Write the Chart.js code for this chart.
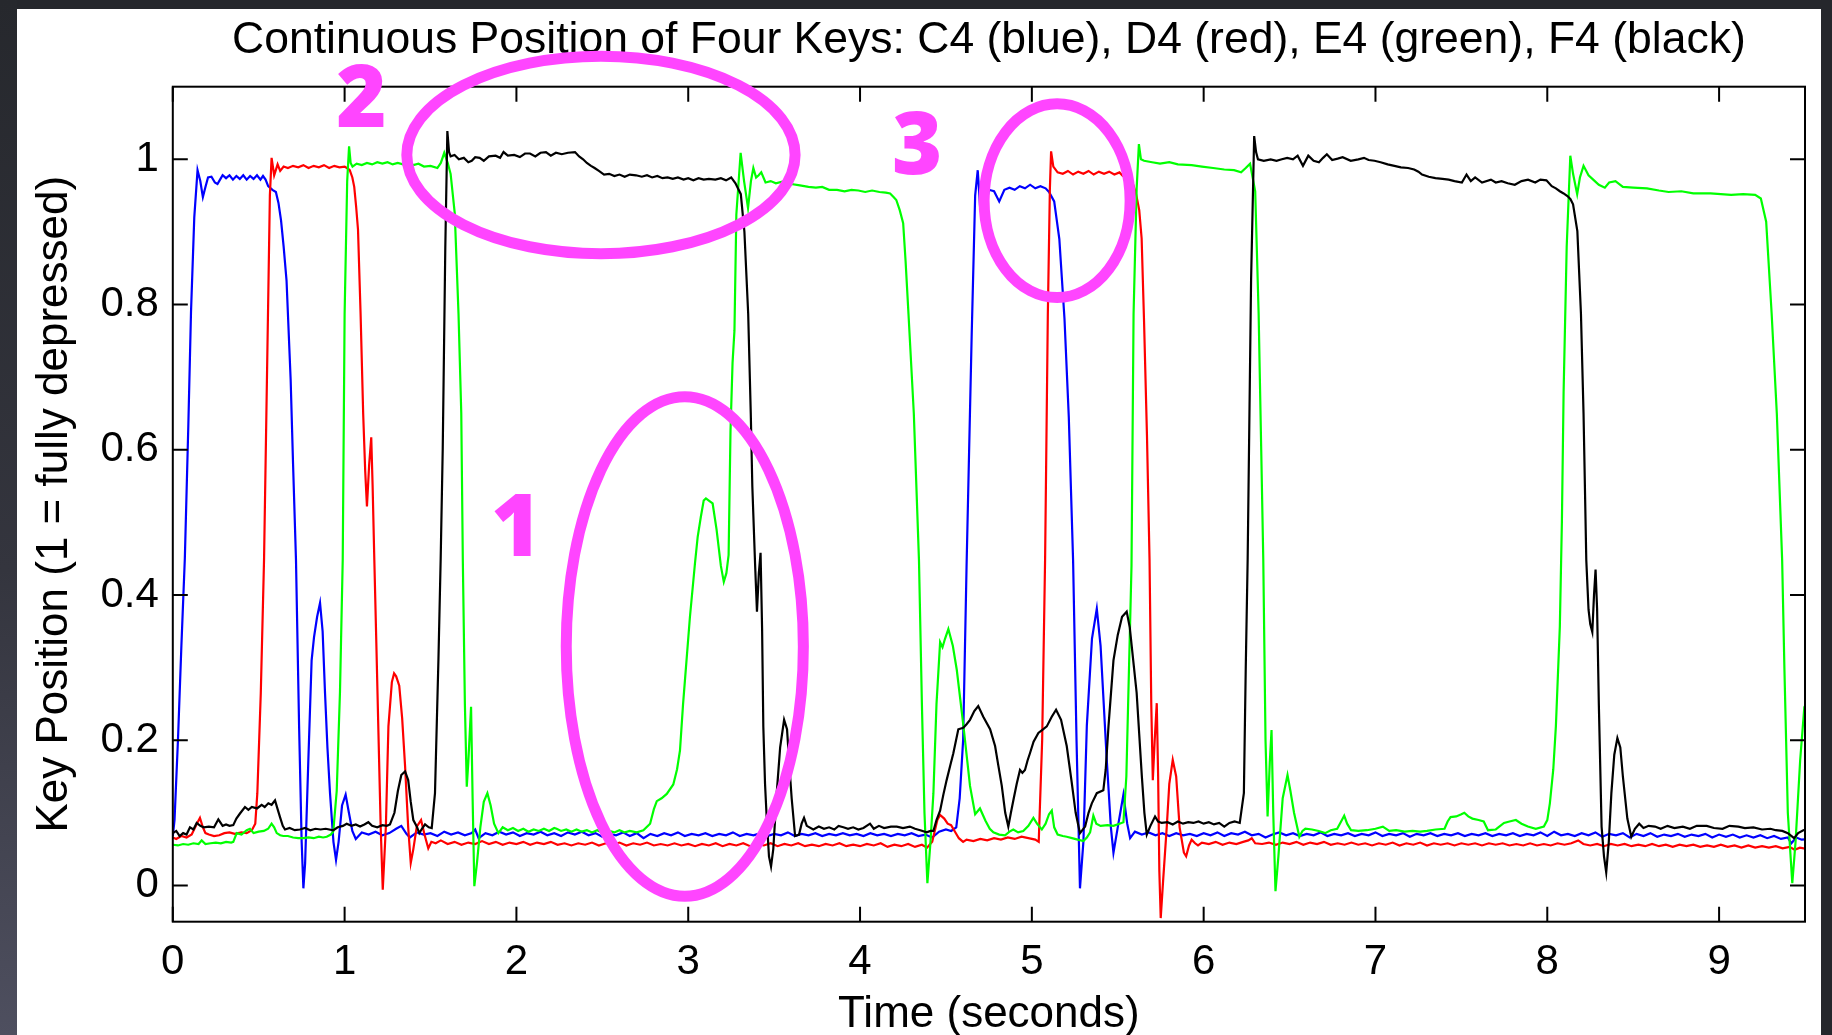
<!DOCTYPE html>
<html>
<head>
<meta charset="utf-8">
<title>Continuous Position of Four Keys</title>
<script src="https://cdn.jsdelivr.net/npm/chart.js@4.4.1/dist/chart.umd.min.js"></script>
<style>
  html, body { margin: 0; padding: 0; background: #25272c; overflow: hidden; }
  #wrap { position: relative; width: 1832px; height: 1035px; }
</style>
</head>
<body>
<div id="wrap"><canvas id="keyChart"></canvas></div>
<script>
// axis ticks
const xTicks = [0, 1, 2, 3, 4, 5, 6, 7, 8, 9];
const yTicks = [0, 0.2, 0.4, 0.6, 0.8, 1];
const yTickLabels = ['0', '0.2', '0.4', '0.6', '0.8', '1'];

// key traces, [time (s), position]
const c4Blue = [
  [0,0.068],[0.01,0.09],[0.03,0.2],[0.05,0.33],[0.07,0.45],[0.09,0.63],[0.106,0.79],[0.125,0.92],[0.144,0.985],
  [0.16,0.97],[0.175,0.948],[0.19,0.962],[0.205,0.975],[0.225,0.976],[0.245,0.968],[0.26,0.966],[0.275,0.972],
  [0.29,0.978],[0.31,0.974],[0.33,0.978],[0.35,0.972],[0.37,0.977],[0.39,0.973],[0.41,0.978],[0.43,0.972],
  [0.45,0.977],[0.47,0.973],[0.49,0.978],[0.51,0.972],[0.525,0.977],[0.54,0.972],[0.555,0.963],[0.58,0.958],
  [0.6,0.955],[0.615,0.94],[0.63,0.916],[0.645,0.88],[0.662,0.833],[0.686,0.696],[0.7,0.58],[0.717,0.448],
  [0.735,0.22],[0.75,0.06],[0.76,-0.004],[0.77,0.03],[0.789,0.173],[0.808,0.31],[0.822,0.342],[0.84,0.37],
  [0.857,0.389],[0.872,0.35],[0.886,0.265],[0.9,0.19],[0.915,0.127],[0.935,0.06],[0.95,0.035],[0.965,0.06],
  [0.985,0.11],[1.006,0.125],[1.025,0.1],[1.045,0.075],[1.065,0.064],[1.1,0.073],[1.14,0.07],[1.18,0.074],
  [1.22,0.069],[1.26,0.072],[1.3,0.078],[1.33,0.082],[1.36,0.071],[1.38,0.066],[1.42,0.073],[1.46,0.07],
  [1.5,0.072],[1.54,0.068],[1.58,0.074],[1.62,0.07],[1.66,0.073],[1.7,0.069],[1.74,0.072],[1.76,0.077],
  [1.78,0.065],[1.82,0.072],[1.86,0.069],[1.9,0.074],[1.94,0.07],[1.98,0.073],[2.02,0.068],[2.06,0.072],
  [2.1,0.07],[2.14,0.074],[2.18,0.069],[2.22,0.072],[2.26,0.068],[2.3,0.073],[2.34,0.07],[2.38,0.074],
  [2.42,0.069],[2.46,0.072],[2.5,0.067],[2.54,0.071],[2.58,0.069],[2.62,0.073],[2.66,0.068],[2.7,0.072],
  [2.74,0.065],[2.78,0.071],[2.82,0.068],[2.86,0.072],[2.9,0.069],[2.94,0.073],[2.98,0.068],[3.02,0.071],
  [3.06,0.069],[3.1,0.072],[3.14,0.068],[3.18,0.071],[3.22,0.069],[3.26,0.073],[3.3,0.068],[3.34,0.071],
  [3.38,0.069],[3.42,0.072],[3.46,0.068],[3.5,0.071],[3.54,0.069],[3.58,0.073],[3.62,0.068],[3.66,0.071],
  [3.7,0.069],[3.74,0.072],[3.78,0.068],[3.82,0.071],[3.86,0.069],[3.9,0.072],[3.94,0.069],[3.98,0.071],
  [4.02,0.068],[4.06,0.072],[4.1,0.069],[4.14,0.071],[4.18,0.068],[4.22,0.071],[4.26,0.069],[4.3,0.072],
  [4.34,0.068],[4.38,0.07],[4.42,0.066],[4.46,0.074],[4.5,0.077],[4.53,0.075],[4.56,0.08],[4.58,0.12],
  [4.6,0.2],[4.62,0.44],[4.65,0.76],[4.67,0.95],[4.685,0.985],[4.7,0.93],[4.72,0.92],[4.75,0.958],
  [4.78,0.956],[4.81,0.942],[4.84,0.958],[4.87,0.961],[4.9,0.958],[4.93,0.963],[4.96,0.96],[4.99,0.965],
  [5.02,0.96],[5.05,0.963],[5.08,0.96],[5.1,0.955],[5.13,0.942],[5.16,0.89],[5.19,0.78],[5.215,0.645],
  [5.24,0.448],[5.26,0.2],[5.28,-0.004],[5.3,0.06],[5.32,0.22],[5.35,0.34],[5.378,0.381],[5.4,0.33],
  [5.436,0.173],[5.46,0.08],[5.475,0.045],[5.5,0.08],[5.533,0.125],[5.555,0.085],[5.572,0.065],[5.6,0.074],
  [5.64,0.07],[5.68,0.073],[5.72,0.069],[5.76,0.072],[5.8,0.068],[5.84,0.072],[5.88,0.069],[5.92,0.071],
  [5.96,0.068],[6,0.072],[6.04,0.069],[6.08,0.073],[6.12,0.068],[6.16,0.072],[6.2,0.07],[6.24,0.074],
  [6.28,0.069],[6.32,0.071],[6.36,0.066],[6.4,0.07],[6.44,0.073],[6.48,0.069],[6.52,0.072],[6.56,0.068],
  [6.6,0.071],[6.64,0.069],[6.68,0.073],[6.72,0.068],[6.76,0.071],[6.8,0.069],[6.84,0.072],[6.88,0.068],
  [6.92,0.071],[6.96,0.069],[7,0.073],[7.04,0.068],[7.08,0.071],[7.12,0.069],[7.16,0.072],[7.2,0.067],
  [7.24,0.071],[7.28,0.069],[7.32,0.072],[7.36,0.068],[7.4,0.071],[7.44,0.069],[7.48,0.072],[7.52,0.068],
  [7.56,0.071],[7.6,0.069],[7.64,0.072],[7.68,0.068],[7.72,0.071],[7.76,0.069],[7.8,0.072],[7.84,0.068],
  [7.88,0.071],[7.92,0.069],[7.96,0.073],[8,0.068],[8.04,0.074],[8.08,0.069],[8.12,0.071],[8.16,0.068],
  [8.2,0.072],[8.24,0.069],[8.28,0.073],[8.32,0.067],[8.36,0.071],[8.4,0.069],[8.44,0.072],[8.48,0.066],
  [8.52,0.071],[8.56,0.068],[8.6,0.072],[8.64,0.067],[8.68,0.07],[8.72,0.068],[8.76,0.071],[8.8,0.067],
  [8.84,0.07],[8.88,0.068],[8.92,0.071],[8.96,0.066],[9,0.07],[9.04,0.067],[9.08,0.07],[9.12,0.066],
  [9.16,0.069],[9.2,0.066],[9.24,0.069],[9.28,0.065],[9.32,0.068],[9.36,0.064],[9.4,0.066],[9.42,0.058],
  [9.45,0.066],[9.48,0.063],[9.52,0.064]
];

const d4Red = [
  [0,0.066],[0.02,0.064],[0.05,0.068],[0.08,0.066],[0.11,0.07],[0.14,0.085],[0.158,0.093],[0.175,0.08],
  [0.19,0.072],[0.21,0.07],[0.24,0.068],[0.27,0.069],[0.3,0.072],[0.33,0.073],[0.36,0.071],[0.4,0.073],
  [0.43,0.072],[0.46,0.076],[0.48,0.085],[0.492,0.127],[0.512,0.264],[0.531,0.448],[0.554,0.787],[0.565,0.95],
  [0.575,1.002],[0.59,0.978],[0.61,0.993],[0.625,0.984],[0.645,0.99],[0.67,0.988],[0.7,0.991],[0.73,0.989],
  [0.76,0.992],[0.79,0.988],[0.82,0.991],[0.85,0.989],[0.88,0.992],[0.91,0.988],[0.94,0.991],[0.97,0.989],
  [1,0.99],[1.02,0.987],[1.03,0.985],[1.045,0.975],[1.056,0.962],[1.067,0.935],[1.078,0.903],[1.093,0.787],
  [1.108,0.65],[1.12,0.57],[1.13,0.522],[1.143,0.58],[1.155,0.617],[1.163,0.55],[1.173,0.448],[1.185,0.33],
  [1.196,0.219],[1.21,0.08],[1.222,-0.006],[1.24,0.08],[1.255,0.219],[1.275,0.28],[1.288,0.292],[1.3,0.288],
  [1.318,0.275],[1.335,0.23],[1.352,0.164],[1.37,0.08],[1.385,0.031],[1.4,0.05],[1.42,0.081],[1.445,0.09],
  [1.465,0.07],[1.487,0.051],[1.505,0.06],[1.53,0.058],[1.56,0.062],[1.6,0.057],[1.64,0.06],[1.68,0.056],
  [1.72,0.059],[1.76,0.057],[1.8,0.061],[1.84,0.057],[1.88,0.06],[1.92,0.056],[1.96,0.059],[2,0.057],
  [2.04,0.06],[2.08,0.056],[2.12,0.059],[2.16,0.057],[2.2,0.06],[2.24,0.056],[2.28,0.058],[2.32,0.055],
  [2.36,0.058],[2.4,0.056],[2.44,0.059],[2.48,0.055],[2.52,0.058],[2.56,0.056],[2.6,0.059],[2.64,0.055],
  [2.68,0.058],[2.72,0.056],[2.76,0.059],[2.8,0.055],[2.84,0.057],[2.88,0.055],[2.92,0.058],[2.96,0.055],
  [3,0.057],[3.04,0.054],[3.08,0.057],[3.12,0.055],[3.16,0.058],[3.2,0.054],[3.24,0.057],[3.28,0.055],
  [3.32,0.058],[3.36,0.054],[3.4,0.057],[3.44,0.055],[3.48,0.058],[3.52,0.054],[3.56,0.057],[3.6,0.055],
  [3.64,0.058],[3.68,0.054],[3.72,0.056],[3.76,0.054],[3.8,0.057],[3.84,0.055],[3.88,0.058],[3.92,0.054],
  [3.96,0.056],[4,0.054],[4.04,0.057],[4.08,0.055],[4.12,0.058],[4.16,0.053],[4.2,0.056],[4.24,0.054],
  [4.28,0.057],[4.32,0.053],[4.36,0.056],[4.39,0.052],[4.42,0.06],[4.45,0.09],[4.466,0.097],[4.49,0.092],
  [4.51,0.085],[4.53,0.083],[4.55,0.075],[4.575,0.065],[4.6,0.06],[4.62,0.063],[4.66,0.061],[4.7,0.064],
  [4.74,0.062],[4.78,0.065],[4.82,0.063],[4.86,0.066],[4.9,0.064],[4.94,0.067],[4.98,0.065],[5.02,0.063],
  [5.04,0.06],[5.06,0.2],[5.077,0.448],[5.093,0.787],[5.105,0.96],[5.112,1.011],[5.125,0.99],[5.15,0.982],
  [5.18,0.98],[5.21,0.984],[5.24,0.979],[5.27,0.983],[5.3,0.98],[5.33,0.984],[5.36,0.979],[5.39,0.983],
  [5.42,0.98],[5.45,0.983],[5.48,0.979],[5.51,0.982],[5.53,0.977],[5.56,0.975],[5.59,0.965],[5.607,0.952],
  [5.625,0.93],[5.639,0.891],[5.653,0.777],[5.67,0.62],[5.685,0.448],[5.695,0.25],[5.704,0.145],[5.715,0.2],
  [5.727,0.251],[5.735,0.15],[5.742,0.02],[5.75,-0.045],[5.765,0.01],[5.785,0.08],[5.8,0.14],[5.82,0.173],
  [5.84,0.15],[5.86,0.08],[5.885,0.045],[5.898,0.04],[5.915,0.055],[5.93,0.063],[5.95,0.058],[5.967,0.055],
  [5.99,0.059],[6.03,0.057],[6.07,0.06],[6.11,0.056],[6.15,0.059],[6.19,0.057],[6.23,0.06],[6.26,0.062],
  [6.28,0.065],[6.3,0.058],[6.34,0.057],[6.38,0.059],[6.42,0.056],[6.46,0.059],[6.5,0.057],[6.54,0.06],
  [6.58,0.056],[6.62,0.059],[6.66,0.057],[6.7,0.06],[6.74,0.056],[6.78,0.058],[6.82,0.056],[6.86,0.059],
  [6.9,0.056],[6.94,0.058],[6.98,0.055],[7.02,0.058],[7.06,0.056],[7.1,0.059],[7.14,0.055],[7.18,0.058],
  [7.22,0.056],[7.26,0.059],[7.3,0.055],[7.34,0.058],[7.38,0.056],[7.42,0.058],[7.46,0.055],[7.5,0.058],
  [7.54,0.056],[7.58,0.058],[7.62,0.055],[7.66,0.058],[7.7,0.056],[7.74,0.058],[7.78,0.055],[7.82,0.057],
  [7.86,0.055],[7.9,0.058],[7.94,0.055],[7.98,0.057],[8.02,0.055],[8.06,0.058],[8.1,0.056],[8.14,0.058],
  [8.18,0.062],[8.21,0.057],[8.25,0.055],[8.29,0.057],[8.33,0.054],[8.37,0.057],[8.41,0.055],[8.45,0.057],
  [8.49,0.054],[8.53,0.056],[8.57,0.054],[8.61,0.057],[8.65,0.054],[8.69,0.056],[8.73,0.053],[8.77,0.056],
  [8.81,0.054],[8.85,0.056],[8.89,0.053],[8.93,0.055],[8.97,0.053],[9.01,0.056],[9.05,0.053],[9.09,0.055],
  [9.13,0.052],[9.17,0.055],[9.21,0.052],[9.25,0.054],[9.29,0.052],[9.33,0.054],[9.37,0.051],[9.41,0.053],
  [9.44,0.049],[9.47,0.052],[9.52,0.05]
];

const e4Green = [
  [0,0.056],[0.03,0.055],[0.06,0.057],[0.09,0.056],[0.12,0.058],[0.15,0.057],[0.168,0.062],[0.19,0.057],
  [0.22,0.058],[0.25,0.059],[0.28,0.058],[0.31,0.06],[0.34,0.059],[0.352,0.06],[0.372,0.072],[0.4,0.07],
  [0.43,0.076],[0.449,0.078],[0.47,0.072],[0.5,0.074],[0.53,0.075],[0.555,0.078],[0.575,0.085],[0.59,0.08],
  [0.605,0.072],[0.625,0.069],[0.643,0.068],[0.67,0.068],[0.7,0.066],[0.73,0.065],[0.76,0.065],[0.79,0.066],
  [0.82,0.065],[0.85,0.067],[0.875,0.066],[0.896,0.067],[0.92,0.07],[0.934,0.074],[0.954,0.13],[0.973,0.266],
  [0.989,0.448],[1,0.787],[1.015,0.97],[1.026,1.018],[1.035,0.995],[1.046,0.99],[1.07,0.994],[1.1,0.992],
  [1.13,0.995],[1.16,0.993],[1.19,0.996],[1.22,0.994],[1.25,0.996],[1.28,0.993],[1.309,0.995],[1.34,0.993],
  [1.37,0.995],[1.4,0.992],[1.43,0.994],[1.462,0.99],[1.5,0.991],[1.54,0.988],[1.56,0.995],[1.58,1.009],
  [1.6,0.995],[1.617,0.98],[1.641,0.926],[1.663,0.787],[1.679,0.65],[1.688,0.448],[1.7,0.25],[1.711,0.136],
  [1.72,0.17],[1.736,0.246],[1.745,0.12],[1.755,-0.001],[1.77,0.03],[1.79,0.08],[1.81,0.115],[1.831,0.127],
  [1.85,0.11],[1.87,0.085],[1.895,0.072],[1.92,0.08],[1.95,0.076],[1.98,0.079],[2.01,0.075],[2.04,0.078],
  [2.07,0.074],[2.1,0.077],[2.13,0.075],[2.16,0.078],[2.19,0.075],[2.22,0.079],[2.234,0.078],[2.26,0.075],
  [2.29,0.077],[2.32,0.074],[2.35,0.077],[2.38,0.074],[2.41,0.076],[2.44,0.073],[2.47,0.076],[2.506,0.072],
  [2.54,0.075],[2.57,0.073],[2.6,0.076],[2.63,0.073],[2.66,0.075],[2.7,0.073],[2.739,0.076],[2.778,0.085],
  [2.8,0.105],[2.817,0.116],[2.845,0.12],[2.875,0.126],[2.913,0.139],[2.935,0.16],[2.952,0.186],[2.97,0.25],
  [2.99,0.31],[3.01,0.37],[3.039,0.443],[3.055,0.48],[3.073,0.507],[3.09,0.53],[3.103,0.533],[3.12,0.53],
  [3.142,0.526],[3.165,0.49],[3.19,0.44],[3.207,0.418],[3.222,0.43],[3.235,0.455],[3.246,0.626],[3.258,0.72],
  [3.269,0.764],[3.28,0.924],[3.305,1.009],[3.325,0.97],[3.348,0.933],[3.365,0.97],[3.379,0.988],[3.395,0.975],
  [3.41,0.978],[3.425,0.982],[3.45,0.968],[3.48,0.97],[3.51,0.967],[3.558,0.97],[3.6,0.966],[3.65,0.964],
  [3.7,0.962],[3.743,0.961],[3.78,0.962],[3.82,0.958],[3.866,0.958],[3.91,0.956],[3.95,0.958],[3.99,0.957],
  [4.03,0.955],[4.07,0.957],[4.113,0.955],[4.15,0.954],[4.175,0.953],[4.195,0.948],[4.211,0.944],[4.231,0.93],
  [4.251,0.912],[4.265,0.86],[4.282,0.787],[4.313,0.65],[4.343,0.448],[4.36,0.25],[4.375,0.1],[4.392,0.003],
  [4.41,0.06],[4.427,0.127],[4.445,0.25],[4.466,0.335],[4.48,0.328],[4.495,0.34],[4.514,0.353],[4.54,0.33],
  [4.563,0.297],[4.602,0.219],[4.64,0.137],[4.67,0.098],[4.698,0.106],[4.73,0.089],[4.755,0.078],[4.776,0.073],
  [4.81,0.07],[4.844,0.069],[4.87,0.074],[4.892,0.077],[4.92,0.073],[4.95,0.075],[4.98,0.082],[5.009,0.093],
  [5.03,0.085],[5.058,0.077],[5.08,0.085],[5.1,0.098],[5.116,0.103],[5.13,0.08],[5.15,0.07],[5.18,0.068],
  [5.203,0.067],[5.25,0.064],[5.3,0.061],[5.32,0.066],[5.339,0.073],[5.358,0.096],[5.375,0.085],[5.4,0.082],
  [5.44,0.083],[5.475,0.082],[5.51,0.085],[5.533,0.087],[5.55,0.15],[5.562,0.266],[5.58,0.44],[5.592,0.787],
  [5.61,0.96],[5.623,1.021],[5.635,1.0],[5.653,0.998],[5.7,0.996],[5.746,0.994],[5.8,0.996],[5.85,0.993],
  [5.93,0.992],[5.99,0.99],[6.055,0.988],[6.12,0.986],[6.177,0.985],[6.218,0.982],[6.245,0.988],[6.27,0.994],
  [6.285,0.975],[6.3,0.956],[6.32,0.787],[6.335,0.6],[6.347,0.448],[6.36,0.2],[6.372,0.095],[6.385,0.17],
  [6.395,0.214],[6.405,0.1],[6.418,-0.008],[6.435,0.04],[6.46,0.12],[6.488,0.152],[6.505,0.13],[6.526,0.1],
  [6.557,0.067],[6.575,0.075],[6.592,0.078],[6.63,0.077],[6.67,0.075],[6.707,0.072],[6.74,0.076],[6.777,0.078],
  [6.8,0.088],[6.818,0.096],[6.835,0.085],[6.858,0.076],[6.9,0.075],[6.95,0.076],[7,0.078],[7.043,0.081],
  [7.08,0.075],[7.12,0.076],[7.17,0.074],[7.216,0.075],[7.26,0.074],[7.3,0.075],[7.35,0.077],[7.402,0.078],
  [7.42,0.088],[7.437,0.094],[7.47,0.095],[7.5,0.098],[7.517,0.1],[7.54,0.095],[7.564,0.092],[7.6,0.09],
  [7.63,0.088],[7.655,0.076],[7.7,0.077],[7.748,0.086],[7.78,0.088],[7.817,0.09],[7.85,0.085],[7.887,0.081],
  [7.933,0.078],[7.98,0.081],[8,0.09],[8.015,0.113],[8.035,0.16],[8.05,0.219],[8.073,0.356],[8.085,0.5],
  [8.095,0.68],[8.113,0.88],[8.134,1.005],[8.15,0.98],[8.174,0.952],[8.19,0.975],[8.211,0.991],[8.24,0.978],
  [8.272,0.971],[8.3,0.965],[8.335,0.961],[8.36,0.968],[8.397,0.97],[8.44,0.962],[8.5,0.961],[8.58,0.96],
  [8.65,0.957],[8.706,0.955],[8.78,0.956],[8.85,0.953],[8.95,0.953],[9.07,0.951],[9.14,0.952],[9.21,0.951],
  [9.243,0.946],[9.274,0.914],[9.306,0.787],[9.336,0.65],[9.367,0.448],[9.38,0.3],[9.4,0.1],[9.426,0.003],
  [9.445,0.06],[9.472,0.173],[9.495,0.242],[9.52,0.23]
];

const f4Black = [
  [0,0.072],[0.02,0.075],[0.04,0.068],[0.06,0.072],[0.08,0.07],[0.1,0.08],[0.12,0.077],[0.139,0.086],
  [0.16,0.082],[0.18,0.08],[0.21,0.081],[0.24,0.08],[0.265,0.091],[0.29,0.082],[0.31,0.084],[0.33,0.082],
  [0.352,0.083],[0.37,0.092],[0.391,0.099],[0.42,0.108],[0.44,0.104],[0.46,0.108],[0.49,0.106],[0.517,0.111],
  [0.535,0.108],[0.556,0.113],[0.575,0.111],[0.595,0.117],[0.61,0.105],[0.624,0.094],[0.64,0.082],[0.653,0.077],
  [0.68,0.079],[0.71,0.076],[0.74,0.077],[0.77,0.079],[0.8,0.076],[0.83,0.078],[0.86,0.077],[0.89,0.078],
  [0.934,0.076],[0.96,0.08],[0.99,0.082],[1.012,0.085],[1.04,0.082],[1.065,0.084],[1.09,0.081],[1.115,0.084],
  [1.138,0.087],[1.16,0.082],[1.19,0.08],[1.22,0.083],[1.245,0.082],[1.264,0.084],[1.29,0.1],[1.31,0.13],
  [1.33,0.152],[1.352,0.157],[1.37,0.145],[1.385,0.115],[1.4,0.09],[1.42,0.081],[1.435,0.072],[1.45,0.078],
  [1.468,0.084],[1.49,0.08],[1.507,0.079],[1.526,0.127],[1.546,0.31],[1.559,0.448],[1.571,0.6],[1.586,0.878],
  [1.598,1.039],[1.608,1.01],[1.617,1.004],[1.64,1.006],[1.665,1],[1.694,1.002],[1.72,0.996],[1.74,0.998],
  [1.76,1.003],[1.786,1.002],[1.81,0.998],[1.84,1.004],[1.879,1.005],[1.905,1.002],[1.925,1.01],[1.95,1.005],
  [1.987,1.006],[2.02,1.003],[2.05,1.008],[2.079,1.008],[2.11,1.004],[2.14,1.009],[2.172,1.01],[2.2,1.005],
  [2.23,1.009],[2.264,1.007],[2.3,1.009],[2.341,1.01],[2.365,1.004],[2.388,1],[2.41,0.995],[2.434,0.991],
  [2.455,0.988],[2.48,0.984],[2.51,0.979],[2.54,0.98],[2.57,0.977],[2.6,0.979],[2.63,0.976],[2.66,0.979],
  [2.696,0.978],[2.73,0.976],[2.76,0.978],[2.79,0.975],[2.82,0.977],[2.85,0.974],[2.88,0.975],[2.91,0.973],
  [2.94,0.975],[2.973,0.972],[3,0.974],[3.03,0.971],[3.06,0.974],[3.09,0.972],[3.12,0.973],[3.158,0.972],
  [3.19,0.974],[3.22,0.971],[3.25,0.975],[3.275,0.967],[3.306,0.952],[3.327,0.9],[3.349,0.787],[3.364,0.65],
  [3.373,0.55],[3.389,0.443],[3.4,0.377],[3.411,0.43],[3.421,0.458],[3.43,0.352],[3.437,0.219],[3.447,0.14],
  [3.457,0.091],[3.47,0.04],[3.482,0.026],[3.495,0.05],[3.515,0.127],[3.535,0.19],[3.558,0.228],[3.575,0.215],
  [3.59,0.16],[3.602,0.12],[3.622,0.068],[3.645,0.07],[3.66,0.085],[3.674,0.093],[3.69,0.082],[3.728,0.077],
  [3.76,0.081],[3.79,0.078],[3.82,0.08],[3.85,0.077],[3.875,0.082],[3.903,0.08],[3.93,0.078],[3.96,0.08],
  [3.99,0.077],[4.02,0.079],[4.058,0.085],[4.08,0.078],[4.11,0.082],[4.14,0.079],[4.18,0.081],[4.214,0.081],
  [4.25,0.079],[4.29,0.081],[4.32,0.078],[4.35,0.076],[4.388,0.073],[4.41,0.075],[4.427,0.075],[4.445,0.09],
  [4.466,0.103],[4.485,0.125],[4.504,0.145],[4.525,0.165],[4.543,0.182],[4.572,0.215],[4.601,0.217],[4.62,0.222],
  [4.64,0.228],[4.665,0.24],[4.688,0.247],[4.718,0.232],[4.757,0.215],[4.786,0.192],[4.805,0.165],[4.825,0.137],
  [4.845,0.1],[4.863,0.081],[4.878,0.1],[4.893,0.118],[4.912,0.14],[4.931,0.159],[4.945,0.155],[4.96,0.159],
  [4.975,0.172],[4.989,0.182],[5.01,0.198],[5.038,0.21],[5.065,0.215],[5.087,0.219],[5.115,0.232],[5.141,0.242],
  [5.17,0.228],[5.203,0.192],[5.232,0.142],[5.255,0.1],[5.28,0.072],[5.31,0.081],[5.33,0.1],[5.349,0.113],
  [5.378,0.127],[5.416,0.131],[5.43,0.16],[5.446,0.219],[5.475,0.31],[5.5,0.345],[5.525,0.37],[5.552,0.377],
  [5.57,0.355],[5.59,0.31],[5.61,0.265],[5.64,0.151],[5.655,0.1],[5.669,0.07],[5.69,0.082],[5.717,0.095],
  [5.735,0.088],[5.756,0.086],[5.79,0.087],[5.82,0.084],[5.85,0.088],[5.88,0.085],[5.91,0.087],[5.94,0.086],
  [5.97,0.088],[6,0.085],[6.03,0.087],[6.06,0.084],[6.09,0.086],[6.12,0.081],[6.15,0.086],[6.18,0.088],
  [6.21,0.086],[6.234,0.127],[6.245,0.3],[6.256,0.448],[6.276,0.834],[6.294,1.032],[6.305,1.01],[6.316,1],
  [6.35,0.998],[6.39,1],[6.424,0.998],[6.455,1],[6.486,1.002],[6.52,1],[6.547,1.005],[6.578,0.991],
  [6.609,1.005],[6.64,0.998],[6.671,0.996],[6.695,1.002],[6.717,1.007],[6.748,0.999],[6.78,1.001],[6.809,1.003],
  [6.856,0.998],[6.9,1],[6.933,1.002],[6.96,0.999],[6.994,0.998],[7.03,0.996],[7.071,0.993],[7.11,0.991],
  [7.148,0.989],[7.19,0.988],[7.225,0.986],[7.25,0.983],[7.271,0.979],[7.31,0.976],[7.349,0.974],[7.39,0.973],
  [7.426,0.972],[7.46,0.97],[7.503,0.968],[7.53,0.979],[7.555,0.97],[7.58,0.975],[7.62,0.968],[7.672,0.972],
  [7.7,0.968],[7.734,0.97],[7.77,0.967],[7.811,0.965],[7.85,0.97],[7.888,0.972],[7.93,0.968],[7.96,0.972],
  [7.995,0.971],[8.026,0.963],[8.05,0.96],[8.073,0.956],[8.095,0.953],[8.119,0.949],[8.135,0.945],[8.15,0.938],
  [8.175,0.901],[8.196,0.787],[8.211,0.65],[8.227,0.448],[8.24,0.38],[8.25,0.36],[8.262,0.349],[8.272,0.4],
  [8.281,0.435],[8.29,0.38],[8.3,0.25],[8.316,0.081],[8.33,0.04],[8.343,0.018],[8.358,0.06],[8.373,0.127],
  [8.39,0.18],[8.408,0.203],[8.425,0.19],[8.44,0.15],[8.466,0.092],[8.489,0.067],[8.51,0.078],[8.535,0.085],
  [8.56,0.079],[8.59,0.082],[8.627,0.081],[8.66,0.078],[8.7,0.082],[8.74,0.079],[8.789,0.081],[8.83,0.078],
  [8.87,0.082],[8.928,0.082],[8.97,0.079],[9.02,0.078],[9.06,0.082],[9.112,0.081],[9.15,0.079],[9.2,0.08],
  [9.25,0.077],[9.299,0.078],[9.33,0.076],[9.368,0.075],[9.4,0.072],[9.437,0.065],[9.46,0.072],[9.49,0.076],
  [9.52,0.077]
];

// magenta call-outs in data units
const ringLabels = ['1', '2', '3'];
const ringCenterT = [2.98, 2.492, 5.147];
const ringCenterV = [0.329, 1.006, 0.943];
const ringRadiusT = [0.69, 1.13, 0.425];
const ringRadiusV = [0.344, 0.136, 0.1334];
const numberT = [1.998, 1.098, 4.333];
const numberV = [0.488, 1.078, 1.013];

const MAGENTA = '#ff45ff';
const FONT = '"Liberation Sans", Arial, Helvetica, sans-serif';

Chart.defaults.font.family = FONT;
Chart.defaults.color = '#000';

// dark window frame behind a white sheet
const framePlugin = {
  id: 'frame',
  beforeDraw(chart) {
    const ctx = chart.ctx;
    ctx.save();
    ctx.fillStyle = '#25272c';
    ctx.fillRect(0, 0, chart.width, chart.height);
    const g = ctx.createLinearGradient(0, 0, 0, chart.height);
    g.addColorStop(0, '#26282d');
    g.addColorStop(0.55, '#34353e');
    g.addColorStop(1, '#4e4f5f');
    ctx.fillStyle = g;
    ctx.fillRect(0, 0, 17, chart.height);
    ctx.fillStyle = '#ffffff';
    ctx.fillRect(17, 9, 1821 - 17, chart.height - 9);
    ctx.restore();
  }
};

// boxed axes with inward ticks, then the call-outs on top
const boxPlugin = {
  id: 'box',
  afterDatasetsDraw(chart) {
    const ctx = chart.ctx;
    const a = chart.chartArea;
    const xs = chart.scales.x;
    const ys = chart.scales.y;
    const tick = 15;
    ctx.save();
    ctx.strokeStyle = '#000';
    ctx.lineWidth = 2;
    ctx.strokeRect(a.left, a.top, a.right - a.left, a.bottom - a.top);
    ctx.beginPath();
    xTicks.forEach(v => {
      const px = xs.getPixelForValue(v);
      ctx.moveTo(px, a.bottom); ctx.lineTo(px, a.bottom - tick);
      ctx.moveTo(px, a.top); ctx.lineTo(px, a.top + tick);
    });
    yTicks.forEach(v => {
      const py = ys.getPixelForValue(v);
      ctx.moveTo(a.left, py); ctx.lineTo(a.left + tick, py);
      ctx.moveTo(a.right, py); ctx.lineTo(a.right - tick, py);
    });
    ctx.stroke();

    ctx.strokeStyle = MAGENTA;
    ctx.lineWidth = 11;
    ringCenterT.forEach((t, i) => {
      const cx = xs.getPixelForValue(t);
      const cy = ys.getPixelForValue(ringCenterV[i]);
      const rx = Math.abs(xs.getPixelForValue(t + ringRadiusT[i]) - cx);
      const ry = Math.abs(ys.getPixelForValue(ringCenterV[i] + ringRadiusV[i]) - cy);
      ctx.beginPath();
      ctx.ellipse(cx, cy, rx, ry, 0, 0, Math.PI * 2);
      ctx.stroke();
    });

    ctx.fillStyle = MAGENTA;
    ctx.font = '800 86px "Open Sans", "Noto Sans", sans-serif';
    ctx.textAlign = 'center';
    ctx.textBaseline = 'middle';
    ringLabels.forEach((s, i) => {
      ctx.fillText(s, xs.getPixelForValue(numberT[i]), ys.getPixelForValue(numberV[i]));
    });
    ctx.restore();
  }
};

function trace(points, color, order) {
  return {
    data: points.map(p => ({ x: p[0], y: p[1] })),
    borderColor: color,
    borderWidth: 2.2,
    pointRadius: 0,
    fill: false,
    tension: 0,
    order: order
  };
}

new Chart(document.getElementById('keyChart'), {
  type: 'line',
  data: {
    datasets: [
      trace(c4Blue, '#0000ff', 4),
      trace(d4Red, '#ff0000', 3),
      trace(e4Green, '#00ff00', 2),
      trace(f4Black, '#000000', 1)
    ]
  },
  options: {
    responsive: true,
    maintainAspectRatio: false,
    animation: false,
    devicePixelRatio: 1,
    events: [],
    layout: { padding: { left: 0, right: 27, top: 0, bottom: 0 } },
    plugins: {
      legend: { display: false },
      tooltip: { enabled: false },
      title: {
        display: true,
        fullSize: false,
        text: 'Continuous Position of Four Keys: C4 (blue), D4 (red), E4 (green), F4 (black)',
        color: '#000',
        font: { size: 44.5, weight: 'normal', lineHeight: 1.2 },
        padding: { top: 14, bottom: 19.3 }
      }
    },
    scales: {
      x: {
        type: 'linear',
        min: 0,
        max: 9.5,
        grid: { display: false, drawTicks: false },
        border: { display: false },
        afterBuildTicks: s => { s.ticks = xTicks.map(v => ({ value: v })); },
        afterFit: s => { s.height = 113.3; },
        ticks: {
          font: { size: 42 },
          color: '#000',
          padding: 16,
          maxRotation: 0,
          autoSkip: false,
          callback: v => String(v)
        },
        title: {
          display: true,
          text: 'Time (seconds)',
          color: '#000',
          font: { size: 44, lineHeight: 0.92 },
          padding: { top: 0, bottom: 0 }
        }
      },
      y: {
        type: 'linear',
        min: -0.05,
        max: 1.1,
        grid: { display: false, drawTicks: false },
        border: { display: false },
        afterBuildTicks: s => { s.ticks = yTicks.map(v => ({ value: v })); },
        afterFit: s => { s.width = 172.8; },
        ticks: {
          font: { size: 42 },
          color: '#000',
          padding: 14,
          autoSkip: false,
          callback: (v, i) => yTickLabels[i]
        },
        title: {
          display: true,
          text: 'Key Position (1 = fully depressed)',
          color: '#000',
          font: { size: 44, lineHeight: 1.2 },
          padding: { top: 28.6, bottom: 0 }
        }
      }
    }
  },
  plugins: [framePlugin, boxPlugin]
});
</script>
</body>
</html>
